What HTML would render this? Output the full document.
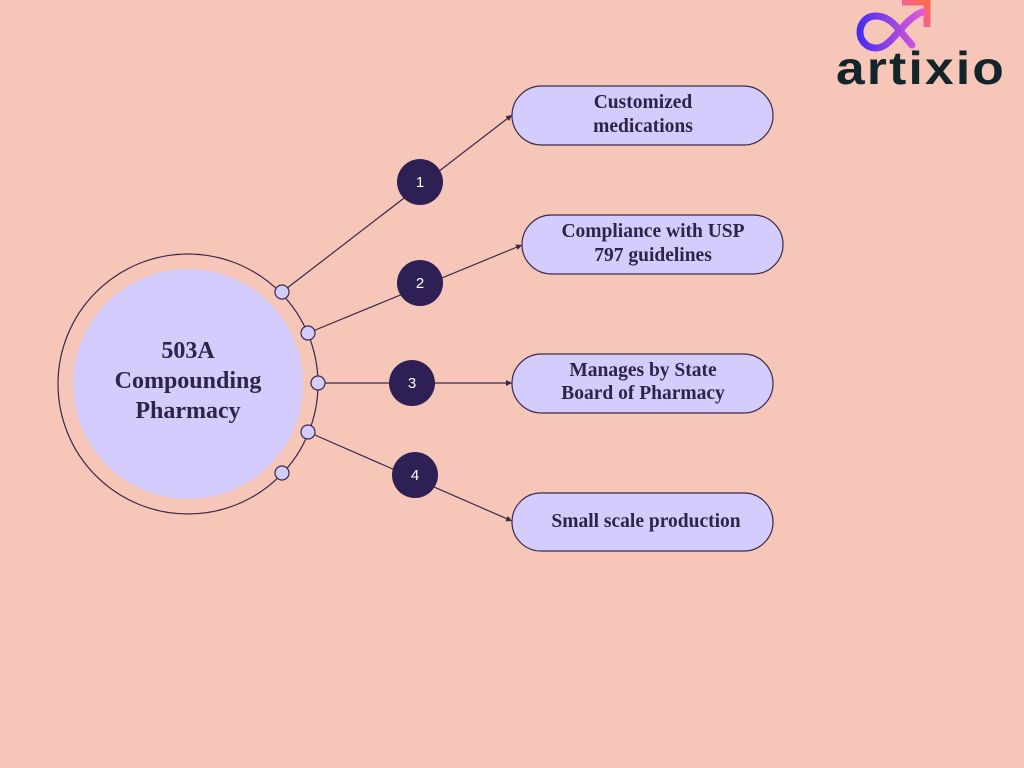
<!DOCTYPE html>
<html><head><style>
html,body{margin:0;padding:0;background:#f6c6b8;}
svg{display:block}
</style></head><body>
<svg width="1024" height="768" viewBox="0 0 1024 768" xmlns="http://www.w3.org/2000/svg">
<defs>
<linearGradient id="g1" x1="0" y1="0" x2="1" y2="0"><stop offset="0" stop-color="#4a2cf0"/><stop offset="1" stop-color="#e05ad8"/></linearGradient>
<linearGradient id="g2" x1="0" y1="1" x2="1" y2="0"><stop offset="0" stop-color="#e05ad8"/><stop offset="1" stop-color="#ff6a4a"/></linearGradient>
<marker id="ar" markerWidth="6" markerHeight="6" refX="5" refY="3" orient="auto"><path d="M0,0.5 L5,3 L0,5.5z" fill="#3a2a4a"/></marker>
</defs>
<rect width="1024" height="768" fill="#f6c6b8"/>
<!-- logo -->
<path d="M902,2 L927,2 L927,27" fill="none" stroke="url(#g2)" stroke-width="7" stroke-linejoin="round"/>
<path d="M912,45 C900,32 892,16 876,16 C864,16 860,26 860,32 C860,40 866,48 876,48 C892,48 900,22 922,12" fill="none" stroke="url(#g1)" stroke-width="7" stroke-linecap="round"/>
<text x="836" y="84" font-family="Liberation Sans, sans-serif" font-weight="bold" font-size="46" fill="#13242a" letter-spacing="2" textLength="170" lengthAdjust="spacingAndGlyphs">artixio</text>
<!-- center -->
<circle cx="188" cy="384" r="130" fill="none" stroke="#3a2a4a" stroke-width="1.2"/>
<circle cx="188" cy="384" r="115" fill="#d4ccfc"/>
<g font-family="Liberation Serif, serif" font-weight="bold" font-size="24" fill="#2e2448" text-anchor="middle">
<text x="188" y="358">503A</text>
<text x="188" y="388">Compounding</text>
<text x="188" y="418">Pharmacy</text>
</g>
<!-- lines -->
<g stroke="#3a2a4a" stroke-width="1.2" fill="none">
<line x1="282" y1="292" x2="512" y2="115" marker-end="url(#ar)"/>
<line x1="308" y1="333" x2="522" y2="245" marker-end="url(#ar)"/>
<line x1="318" y1="383" x2="512" y2="383" marker-end="url(#ar)"/>
<line x1="308" y1="432" x2="512" y2="521" marker-end="url(#ar)"/>
</g>
<g fill="#d4ccfc" stroke="#3a2a4a" stroke-width="1.2">
<circle cx="282" cy="292" r="7"/><circle cx="308" cy="333" r="7"/><circle cx="318" cy="383" r="7"/><circle cx="308" cy="432" r="7"/><circle cx="282" cy="473" r="7"/>
</g>
<g fill="#2e1f55">
<circle cx="420" cy="182" r="23"/><circle cx="420" cy="283" r="23"/><circle cx="412" cy="383" r="23"/><circle cx="415" cy="475" r="23"/>
</g>
<g font-family="Liberation Sans, sans-serif" font-size="15" fill="#fff" text-anchor="middle">
<text x="420" y="187">1</text><text x="420" y="288">2</text><text x="412" y="388">3</text><text x="415" y="480">4</text>
</g>
<g fill="#d4ccfc" stroke="#3a2a4a" stroke-width="1.2">
<rect x="512" y="86" width="261" height="59" rx="29.5"/>
<rect x="522" y="215" width="261" height="59" rx="29.5"/>
<rect x="512" y="354" width="261" height="59" rx="29.5"/>
<rect x="512" y="493" width="261" height="58" rx="29"/>
</g>
<g font-family="Liberation Serif, serif" font-weight="bold" font-size="19.5" fill="#2e2448" text-anchor="middle">
<text x="643" y="108">Customized</text><text x="643" y="132">medications</text>
<text x="653" y="237">Compliance with USP</text><text x="653" y="261">797 guidelines</text>
<text x="643" y="376">Manages by State</text><text x="643" y="399">Board of Pharmacy</text>
<text x="646" y="527">Small scale production</text>
</g>
</svg>
</body></html>
